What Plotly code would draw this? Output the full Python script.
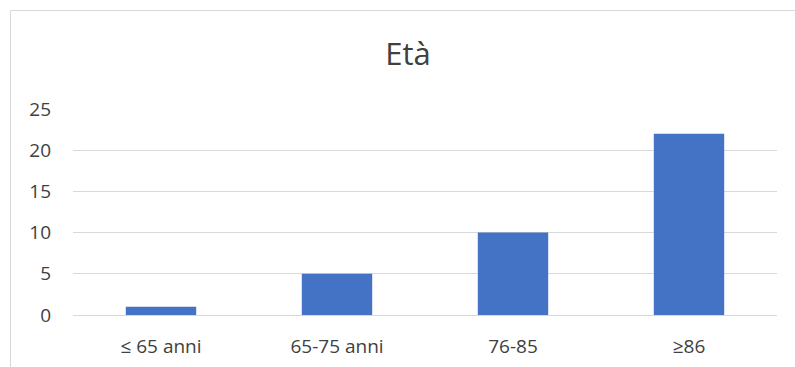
import plotly.graph_objects as go

# Age distribution
categories = ["≤ 65 anni", "65-75 anni", "76-85", "≥86"]
counts = [1, 5, 10, 22]
y_ticks = [0, 5, 10, 15, 20, 25]

W, H = 795, 367
L, R, T, B = 73, 18, 109, 52
plot_w = W - L - R
plot_h = H - T - B


def px_x(px):
    return (px - L) / plot_w


def px_y(py):
    return (H - B - py) / plot_h


fig = go.Figure(
    go.Bar(
        x=categories,
        y=counts,
        marker=dict(color="#4472C4", line=dict(width=0)),
        width=0.4,
    )
)

fig.update_layout(
    width=W,
    height=H,
    margin=dict(l=L, r=R, t=T, b=B),
    paper_bgcolor="white",
    plot_bgcolor="white",
    showlegend=False,
    font=dict(family="Open Sans", color="#404040", size=19),
    title=dict(
        text="Età",
        x=408 / W,
        xanchor="center",
        y=1 - 54 / H,
        yanchor="middle",
        font=dict(size=31, color="#404040"),
    ),
    xaxis=dict(
        showgrid=False,
        showline=False,
        ticks="",
        ticklabelstandoff=18,
        tickfont=dict(size=19),
        automargin=False,
    ),
    yaxis=dict(
        range=[0, 25],
        tickvals=y_ticks,
        showgrid=True,
        gridcolor="#D9D9D9",
        gridwidth=1,
        zeroline=True,
        zerolinecolor="#D9D9D9",
        zerolinewidth=1,
        showline=False,
        ticks="",
        ticklabelstandoff=21,
        tickfont=dict(size=19),
        automargin=False,
    ),
    shapes=[
        dict(
            type="rect",
            xref="paper",
            yref="paper",
            x0=px_x(10.5),
            x1=px_x(W + 20),
            y0=px_y(H + 20),
            y1=px_y(10.5),
            line=dict(color="#D9D9D9", width=1),
            fillcolor="rgba(0,0,0,0)",
            layer="below",
        )
    ],
)

fig.write_html("out.html")
